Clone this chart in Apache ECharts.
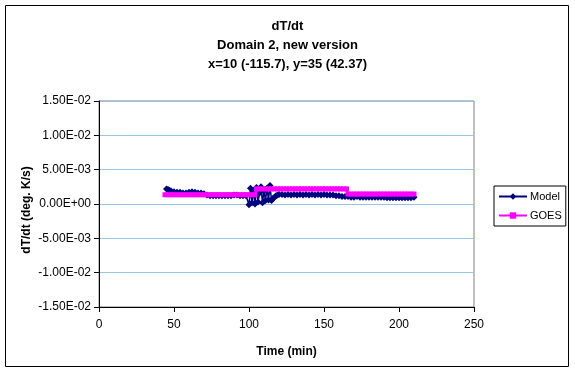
<!DOCTYPE html>
<html>
<head>
<meta charset="utf-8">
<script src="https://cdn.jsdelivr.net/npm/echarts@6/dist/echarts.min.js"></script>
<style>
html,body{margin:0;padding:0;background:#fff;}
#chart{width:575px;height:373px;}
</style>
</head>
<body>
<div id="chart"></div>
<script>
const titleLines = ['dT/dt', 'Domain 2, new version', 'x=10 (-115.7), y=35 (42.37)'];
const xAxisName = 'Time (min)';
const yAxisName = 'dT/dt (deg. K/s)';
const seriesNames = ['Model', 'GOES'];

const modelTime = [45,46,47,48,50,52,54,56,58,60,62,64,66,68,70,72,74,76,78,80,82,84,86,88,90,92,94,96,98,
  100,101,102,103,104,105,106,107,108,109,110,111,112,113,114,115,116,117,118,119,
  120,122,124,126,128,130,132,134,136,138,140,142,144,146,148,150,152,154,156,158,160,162,164,
  166,168,170,172,174,176,178,180,182,184,186,188,190,192,194,196,198,200,202,204,206,208,210];
const modelVal = [2.2e-3,2.1e-3,2.0e-3,1.9e-3,1.8e-3,1.7e-3,1.7e-3,1.6e-3,1.6e-3,1.7e-3,1.8e-3,1.7e-3,1.6e-3,1.6e-3,1.5e-3,1.3e-3,1.2e-3,1.2e-3,1.2e-3,1.2e-3,1.2e-3,1.2e-3,1.2e-3,1.2e-3,1.3e-3,1.3e-3,1.2e-3,1.2e-3,1.2e-3,
  -0.1e-3,2.3e-3,0.2e-3,1.9e-3,0.0,2.4e-3,0.3e-3,1.6e-3,2.5e-3,0.2e-3,1.9e-3,0.5e-3,2.3e-3,0.6e-3,2.7e-3,0.5e-3,0.8e-3,1.0e-3,1.2e-3,1.3e-3,
  1.4e-3,1.4e-3,1.3e-3,1.4e-3,1.3e-3,1.4e-3,1.3e-3,1.4e-3,1.3e-3,1.4e-3,1.3e-3,1.4e-3,1.3e-3,1.4e-3,1.3e-3,1.4e-3,1.3e-3,1.3e-3,1.3e-3,1.2e-3,1.2e-3,1.1e-3,1.1e-3,
  1.1e-3,1.0e-3,1.0e-3,1.1e-3,1.0e-3,1.0e-3,1.0e-3,1.0e-3,1.0e-3,1.0e-3,1.0e-3,1.0e-3,1.0e-3,0.9e-3,0.9e-3,0.9e-3,0.9e-3,0.9e-3,0.9e-3,0.9e-3,0.9e-3,0.9e-3,1.0e-3];

const goesTime = [44,46,48,50,52,54,56,58,60,62,64,66,68,70,72,74,76,78,80,82,84,86,88,90,92,94,96,98,100,102,104,
  105,107,109,111,113,115,117,119,121,123,125,127,129,131,133,135,137,139,141,143,145,147,149,151,153,155,157,159,161,163,165,
  166,168,170,172,174,176,178,180,182,184,186,188,190,192,194,196,198,200,202,204,206,208,210];
const goesVal = [1.35e-3,1.35e-3,1.35e-3,1.35e-3,1.35e-3,1.35e-3,1.35e-3,1.35e-3,1.35e-3,1.35e-3,1.35e-3,1.35e-3,1.35e-3,1.35e-3,1.35e-3,1.35e-3,1.35e-3,1.35e-3,1.35e-3,1.35e-3,1.35e-3,1.35e-3,1.35e-3,1.35e-3,1.35e-3,1.35e-3,1.35e-3,1.35e-3,1.35e-3,1.35e-3,1.35e-3,
  2.2e-3,2.2e-3,2.2e-3,2.2e-3,2.2e-3,2.2e-3,2.2e-3,2.2e-3,2.2e-3,2.2e-3,2.2e-3,2.2e-3,2.2e-3,2.2e-3,2.2e-3,2.2e-3,2.2e-3,2.2e-3,2.2e-3,2.2e-3,2.2e-3,2.2e-3,2.2e-3,2.2e-3,2.2e-3,2.2e-3,2.2e-3,2.2e-3,2.2e-3,2.2e-3,2.2e-3,
  1.45e-3,1.45e-3,1.45e-3,1.45e-3,1.45e-3,1.45e-3,1.45e-3,1.45e-3,1.45e-3,1.45e-3,1.45e-3,1.45e-3,1.45e-3,1.45e-3,1.45e-3,1.45e-3,1.45e-3,1.45e-3,1.45e-3,1.45e-3,1.45e-3,1.45e-3,1.45e-3];

function fmtE(v) {
  if (Math.abs(v) < 1e-12) return '0.00E+00';
  let e = Math.floor(Math.log10(Math.abs(v)));
  let m = v / Math.pow(10, e);
  if (Math.abs(parseFloat(m.toFixed(2))) >= 10) { m /= 10; e += 1; }
  return m.toFixed(2) + 'E' + (e < 0 ? '-' : '+') + String(Math.abs(e)).padStart(2, '0');
}

const font = 'Arial, "Liberation Sans", sans-serif';
const chart = echarts.init(document.getElementById('chart'), null, {renderer: 'canvas'});
chart.setOption({
  animation: false,
  backgroundColor: '#ffffff',
  textStyle: {fontFamily: font, color: '#000'},
  title: {
    text: titleLines.join('\n'),
    left: 'center',
    top: 17,
    padding: 0,
    textStyle: {fontFamily: font, fontSize: 13, fontWeight: 'bold', color: '#000', lineHeight: 19}
  },
  graphic: [{
    type: 'rect', shape: {x: 5.5, y: 5.5, width: 563, height: 361},
    style: {fill: 'none', stroke: '#000', lineWidth: 1}, silent: true
  }],
  legend: {
    orient: 'vertical',
    left: 494,
    top: 186,
    padding: [5, 4, 5, 4],
    itemGap: 8,
    itemWidth: 28,
    itemHeight: 8,
    borderColor: '#000',
    borderWidth: 1,
    backgroundColor: '#fff',
    textStyle: {fontFamily: font, fontSize: 11, color: '#000', padding: [0, 0, 0, -2]},
    data: seriesNames
  },
  grid: {
    left: 99, right: 101, top: 101, bottom: 66,
    show: true, borderColor: '#808080', borderWidth: 1, backgroundColor: '#fff'
  },
  xAxis: {
    type: 'value', min: 0, max: 250, interval: 50,
    name: xAxisName, nameLocation: 'middle', nameGap: 39,
    nameTextStyle: {fontFamily: font, fontSize: 12, fontWeight: 'bold', color: '#000'},
    axisLine: {onZero: false, lineStyle: {color: '#000', width: 1}},
    axisTick: {show: true, length: 5, lineStyle: {color: '#000'}},
    axisLabel: {fontFamily: font, fontSize: 12, color: '#000', margin: 12},
    splitLine: {show: false}
  },
  yAxis: {
    type: 'value', min: -0.015, max: 0.015, interval: 0.005,
    name: yAxisName, nameLocation: 'middle', nameGap: 66, nameRotate: 90,
    nameMoveOverlap: false,
    nameTextStyle: {fontFamily: font, fontSize: 12, fontWeight: 'bold', color: '#000', padding: [0, 12, 0, 0]},
    axisLine: {show: true, onZero: false, lineStyle: {color: '#000', width: 1}},
    axisTick: {show: true, length: 5, lineStyle: {color: '#000'}},
    axisLabel: {fontFamily: font, fontSize: 12, color: '#000', margin: 8, formatter: fmtE},
    splitLine: {show: true, lineStyle: {color: '#99C4E4', width: 1}}
  },
  series: [
    {
      name: seriesNames[0], type: 'line',
      data: modelTime.map((t, i) => [t, modelVal[i]]),
      symbol: 'diamond', symbolSize: 7,
      lineStyle: {color: '#000080', width: 1.5},
      itemStyle: {color: '#000080'},
      z: 3
    },
    {
      name: seriesNames[1], type: 'line',
      data: goesTime.map((t, i) => [t, goesVal[i]]),
      symbol: 'rect', symbolSize: 5,
      lineStyle: {color: '#FF00FF', width: 2.5},
      itemStyle: {color: '#FF00FF'},
      z: 4
    }
  ]
});
</script>
</body>
</html>
